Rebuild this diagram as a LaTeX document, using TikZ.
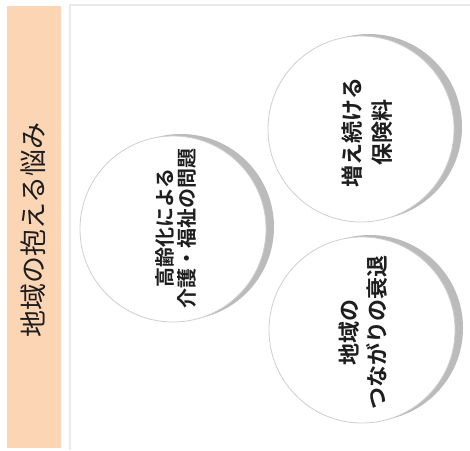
\documentclass[tikz,border=0pt]{standalone}
\usepackage{fontspec}
\newfontfamily\jp{Noto Sans CJK JP}[BoldFont=* Bold]
\definecolor{peach}{HTML}{FCD5B5}
\definecolor{panelline}{HTML}{EAEAEA}
\definecolor{ringline}{HTML}{CFCFCF}
\definecolor{shadowgray}{HTML}{BBBBBB}
\definecolor{ink}{HTML}{1E1E1E}
\tikzset{
  bubble/.style={circle, draw=ringline, line width=0.8pt, fill=white, minimum size=186pt, inner sep=0pt},
  bubbleshadow/.style={circle, fill=shadowgray, minimum size=186pt, inner sep=0pt},
  bubbletext/.style={rotate=90, align=center, text=ink, font=\jp\bfseries, inner sep=0pt},
  titlebar/.style={fill=peach, draw=none},
}
\begin{document}
\begin{tikzpicture}[x=1pt, y=-1pt]
\useasboundingbox (0,0) rectangle (470,450);
\fill[white] (0,0) rectangle (470,450);
% left title bar
\fill[titlebar] (7,6) rectangle (61,448);
\node[rotate=90, text=ink, font=\jp\fontsize{27}{30}\selectfont, inner sep=0pt] (title) at (33,230) {地域の抱える悩み};
% panel border
\coordinate (pbl) at (70,450);
\coordinate (ptl) at (70,5);
\coordinate (ptr) at (470,5);
\draw[panelline, line width=1.6pt] (pbl) -- (ptl) -- (ptr);
% shadows
\node[bubbleshadow] (s1) at (181,227) {};
\node[bubbleshadow] (s2) at (369,127) {};
\node[bubbleshadow] (s3) at (370,328) {};
% circles
\node[bubble] (c1) at (173,229) {};
\node[bubble] (c2) at (361,129) {};
\node[bubble] (c3) at (362,330) {};
% texts
\node[bubbletext, font=\jp\bfseries\fontsize{20}{21.5}\selectfont] (t1) at (176,228) {高齢化による\\介護・福祉の問題};
\node[bubbletext, font=\jp\bfseries\fontsize{22}{30}\selectfont] (t2) at (367,132) {増え続ける\\保険料};
\node[bubbletext, font=\jp\bfseries\fontsize{22}{28}\selectfont] (t3) at (363,332) {地域の\\つながりの衰退};
\end{tikzpicture}
\end{document}
